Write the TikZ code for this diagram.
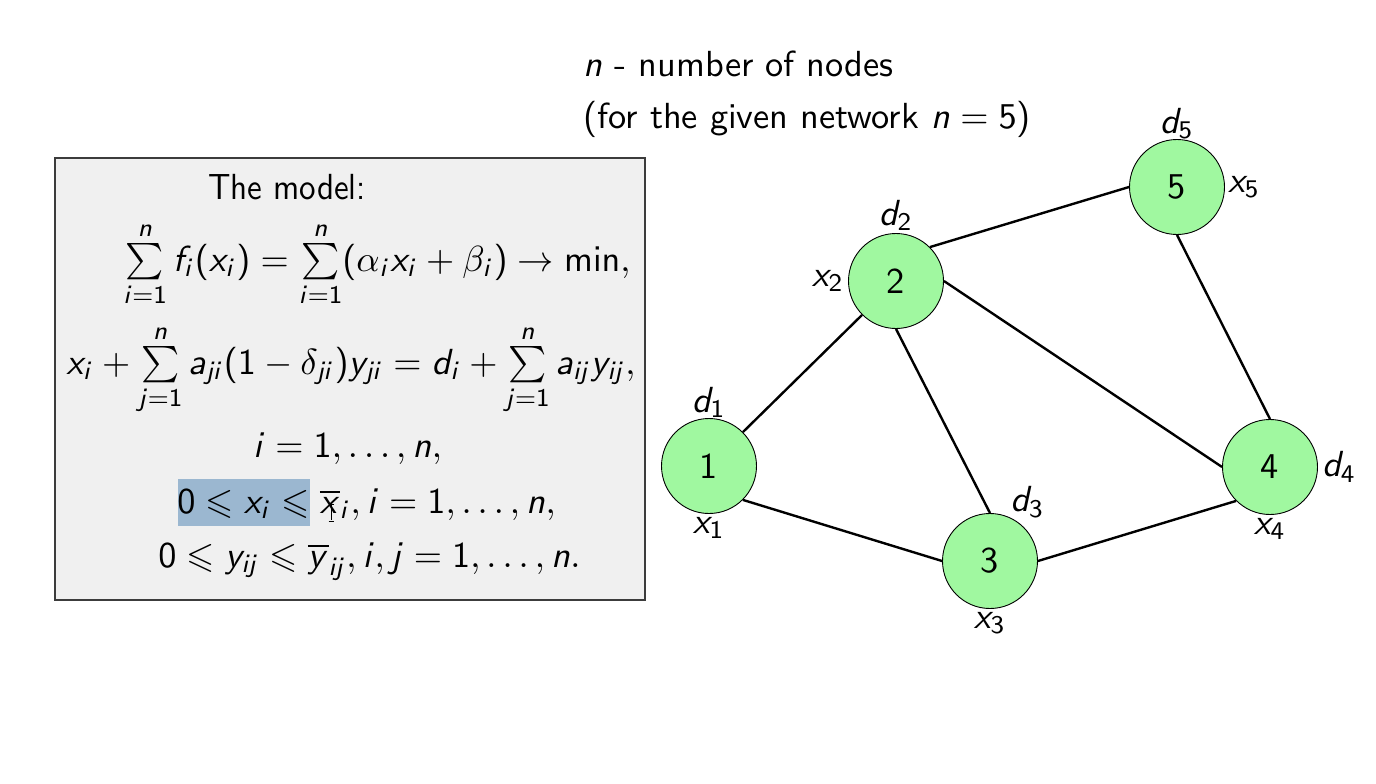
\documentclass[tikz,border=0pt]{standalone}
\usepackage{amsmath,amssymb}
\DeclareSymbolFont{sfletters}{OT1}{cmss}{m}{sl}
\SetSymbolFont{operators}{normal}{OT1}{cmss}{m}{n}
\DeclareMathSymbol{a}{\mathalpha}{sfletters}{`a}
\DeclareMathSymbol{d}{\mathalpha}{sfletters}{`d}
\DeclareMathSymbol{f}{\mathalpha}{sfletters}{`f}
\DeclareMathSymbol{i}{\mathalpha}{sfletters}{`i}
\DeclareMathSymbol{j}{\mathalpha}{sfletters}{`j}
\DeclareMathSymbol{n}{\mathalpha}{sfletters}{`n}
\DeclareMathSymbol{x}{\mathalpha}{sfletters}{`x}
\DeclareMathSymbol{y}{\mathalpha}{sfletters}{`y}
\newcommand{\txtsc}[1]{\scalebox{3.63}{\sffamily #1}}
\newcommand{\sumlim}{\sum\limits}
\definecolor{nodegreen}{RGB}{160,248,160}
\definecolor{boxfill}{RGB}{240,240,240}
\definecolor{boxline}{RGB}{60,60,60}
\definecolor{hlblue}{RGB}{155,183,208}
\begin{document}
\begin{tikzpicture}[x=1pt,y=-1pt,
  txt/.style={inner sep=0pt},
  vertex/.style={circle, draw=black, line width=0.9pt, fill=nodegreen, minimum size=95pt, inner sep=0pt},
  lab/.style={inner sep=1.5pt},
  edge/.style={line width=2.4pt, draw=black},
  modelbox/.style={draw=boxline, line width=2pt, fill=boxfill, minimum width=590pt, minimum height=442pt, inner sep=0pt, anchor=north west},
]
\useasboundingbox (0,0) rectangle (1376,784);
\fill[white] (0,0) rectangle (1376,784);

% top text
\node[txt, anchor=base west] (t1) at (583,77) {\txtsc{$n$ - number of nodes}};
\node[txt, anchor=base west] (t2) at (583,128) {\txtsc{(for the given network $n=5$)}};

% model box
\node[modelbox] (box) at (54,157) {};
\fill[hlblue] (178,479) rectangle (310,526);
\node[txt, anchor=base west] (m0) at (208,199) {\scalebox{3.3}[3.63]{\sffamily The model:}};
\node[txt, anchor=base] (m1) at (377,271) {\txtsc{$\sumlim_{i=1}^{n} f_i(x_i)=\sumlim_{i=1}^{n}(\alpha_i x_i+\beta_i)\to\min,$}};
\node[txt, anchor=base] (m2) at (351,374) {\txtsc{$x_i+\sumlim_{j=1}^{n} a_{ji}(1-\delta_{ji})y_{ji}=d_i+\sumlim_{j=1}^{n} a_{ij}y_{ij},$}};
\node[txt, anchor=base] (m3) at (347.5,457) {\txtsc{$i=1,\dots,n,$}};
\node[txt, anchor=base] (m4) at (366.5,513) {\txtsc{$0\leqslant x_i\leqslant\overline{x}_i, i=1,\dots,n,$}};
\node[txt, anchor=base] (m5) at (369.5,567) {\txtsc{$0\leqslant y_{ij}\leqslant\overline{y}_{ij}, i,j=1,\dots,n.$}};
% text cursor
\draw[line width=1pt] (331,505) -- (331,520) (328.5,504) -- (333.5,504) (328.5,521) -- (333.5,521);

% network
\node[vertex, label={[lab,inner sep=0pt]above:\txtsc{$d_1$}}, label={[lab,inner sep=3pt]below:\txtsc{$x_1$}}] (n1) at (709,466) {\txtsc{1}};
\node[vertex, label={[lab,inner sep=2pt]above:\txtsc{$d_2$}}, label={[lab,inner sep=4pt]left:\txtsc{$x_2$}}] (n2) at (896,281) {\txtsc{2}};
\node[vertex, label={[lab,inner sep=0pt]65:\txtsc{$d_3$}}, label={[lab,inner sep=3pt]below:\txtsc{$x_3$}}] (n3) at (990,561) {\txtsc{3}};
\node[vertex, label={[lab,inner sep=4pt]right:\txtsc{$d_4$}}, label={[lab,inner sep=3pt]below:\txtsc{$x_4$}}] (n4) at (1270,467) {\txtsc{4}};
\node[vertex, label={[lab,inner sep=0pt]above:\txtsc{$d_5$}}, label={[lab,inner sep=3pt]right:\txtsc{$x_5$}}] (n5) at (1177,187) {\txtsc{5}};

\draw[edge] (n1.north east) -- (n2.south west);
\draw[edge] (n1.south east) -- (n3.west);
\draw[edge] (n2.north east) -- (n5.west);
\draw[edge] (n2.east) -- (n4.west);
\draw[edge] (n2.south) -- (n3.north);
\draw[edge] (n3.east) -- (n4.south west);
\draw[edge] (n4.north) -- (n5.south);
\end{tikzpicture}
\end{document}
